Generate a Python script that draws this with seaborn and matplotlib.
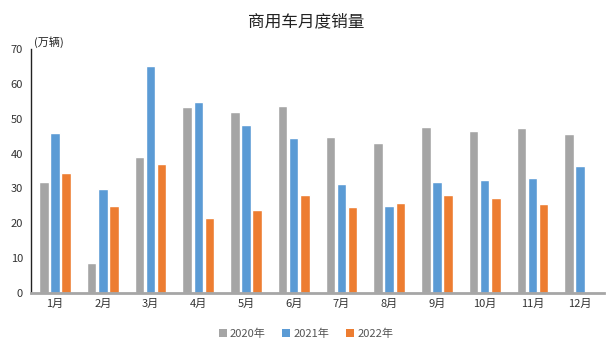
import numpy as np
import pandas as pd
import matplotlib
matplotlib.use("Agg")
import matplotlib.pyplot as plt
import seaborn as sns
from matplotlib.patches import Patch

months = ["1月", "2月", "3月", "4月", "5月", "6月", "7月", "8月", "9月", "10月", "11月", "12月"]
years = ["2020年", "2021年", "2022年"]
sales_2020 = [31.9, 8.5, 38.9, 53.4, 51.9, 53.6, 44.8, 43.0, 47.7, 46.5, 47.3, 45.6]
sales_2021 = [45.8, 29.8, 65.2, 54.9, 48.2, 44.6, 31.3, 24.8, 31.7, 32.5, 33.0, 36.4]
sales_2022 = [34.4, 25.0, 37.0, 21.6, 23.9, 28.1, 24.6, 25.8, 28.0, 27.3, 25.5, np.nan]
y_ticks = [0, 10, 20, 30, 40, 50, 60, 70]
colors = ["#A5A5A5", "#5B9BD5", "#ED7D31"]

df = pd.DataFrame({
    "month": months * 3,
    "year": [years[0]] * 12 + [years[1]] * 12 + [years[2]] * 12,
    "value": sales_2020 + sales_2021 + sales_2022,
})

sns.set_theme(style="white")
plt.rcParams["font.family"] = ["Noto Sans CJK SC", "DejaVu Sans"]

fig = plt.figure(figsize=(6.12, 3.58), dpi=100)
ax = fig.add_axes([0.051, 0.182, 0.936, 0.681])

sns.barplot(data=df, x="month", y="value", hue="year", order=months, hue_order=years,
            palette=colors, width=0.70, gap=0.15, ax=ax, legend=False,
            saturation=1, errorbar=None)

ax.set_ylim(0, 70)
ax.set_yticks(y_ticks)
ax.set_xlim(-0.5, 11.5)
ax.set_xlabel("")
ax.set_ylabel("")
ax.tick_params(axis="y", labelsize=8, colors="#333333", length=0, pad=6)
ax.tick_params(axis="x", labelsize=8, colors="#333333", length=0, pad=4)
for s in ["top", "right"]:
    ax.spines[s].set_visible(False)
ax.spines["left"].set_color("#222222")
ax.spines["left"].set_linewidth(1.0)
ax.spines["bottom"].set_color("#A6A6A6")
ax.spines["bottom"].set_linewidth(2.0)

fig.text(0.5, 0.94, "商用车月度销量", ha="center", va="center", fontsize=12,
         color="#222222")
ax.text(0.005, 1.005, "(万辆)", transform=ax.transAxes, ha="left", va="bottom",
        fontsize=8, color="#222222")

handles = [Patch(facecolor=c, edgecolor="none") for c in colors]
fig.legend(handles, years, loc="center", bbox_to_anchor=(0.5, 0.068), ncol=3,
           frameon=False, fontsize=8, handlelength=0.7, handleheight=0.7,
           handletextpad=0.3, columnspacing=1.5, labelcolor="#555555")

fig.savefig("out.png", dpi=100)
